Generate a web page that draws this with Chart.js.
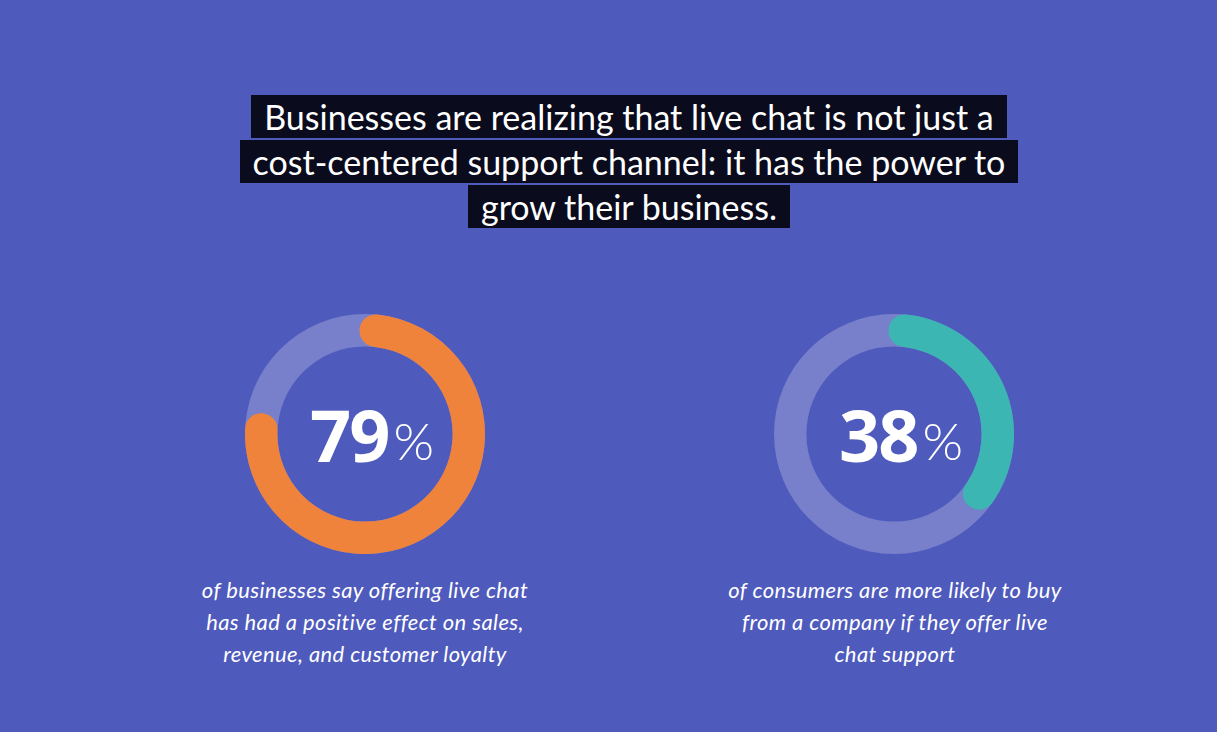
<!DOCTYPE html>
<html>
<head>
<meta charset="utf-8">
<script src="https://cdn.jsdelivr.net/npm/chart.js@4/dist/chart.umd.min.js"></script>
<style>
  html, body { margin: 0; padding: 0; }
  body { width: 1217px; height: 732px; background: #4E5ABC; position: relative; overflow: hidden; font-family: Lato, "Open Sans", sans-serif; color: #fff; }
  #title { position: absolute; left: 0; width: 1258px; top: 95px; text-align: center; }
  #title div { height: 45px; }
  #title span { display: inline-block; background: #0a0b1c; color: #fff; font-size: 34px; line-height: 43px; padding: 0 13px; }
  .wrap { position: absolute; width: 240px; height: 240px; top: 314px; }
  .wrap canvas { position: absolute; left: 0; top: 0; }
  .big { position: absolute; left: 7px; width: 240px; top: 0; height: 240px; display: flex; align-items: center; justify-content: center; pointer-events: none; }
  .big b { font-family: "Open Sans", sans-serif; font-size: 72px; font-weight: 700; letter-spacing: -2px; }
  .big i { font-family: Lato, sans-serif; font-style: normal; font-size: 52px; font-weight: 300; margin-left: 5px; margin-top: 12px; }
  .cap { position: absolute; top: 574px; width: 440px; text-align: center; font-style: italic; font-size: 22px; letter-spacing: 0.4px; line-height: 32px; }
</style>
</head>
<body>
<div id="title"></div>
<div class="wrap" id="w0" style="left:245px"><canvas id="c0" width="240" height="240"></canvas><div class="big" id="b0"></div></div>
<div class="wrap" id="w1" style="left:774px"><canvas id="c1" width="240" height="240"></canvas><div class="big" id="b1"></div></div>
<div class="cap" id="cap0" style="left:145px"></div>
<div class="cap" id="cap1" style="left:675px"></div>
<script>
const titleLines = [
  "Businesses are realizing that live chat is not just a",
  "cost-centered support channel: it has the power to",
  "grow their business."
];
const percentages = [79, 38];
const accentColors = ["#EF833B", "#3BB6B3"];
const trackColor = "#7880CB";
const captions = [
  ["of businesses say offering live chat", "has had a positive effect on sales,", "revenue, and customer loyalty"],
  ["of consumers are more likely to buy", "from a company if they offer live", "chat support"]
];

document.getElementById('title').innerHTML = titleLines.map(l => '<div><span>' + l + '</span></div>').join('');

const trackPlugin = {
  id: 'track',
  beforeDatasetsDraw(chart) {
    const arc = chart.getDatasetMeta(0).data[0];
    if (!arc) return;
    const ctx = chart.ctx;
    ctx.save();
    ctx.beginPath();
    ctx.arc(arc.x, arc.y, arc.outerRadius, 0, Math.PI * 2);
    ctx.arc(arc.x, arc.y, arc.innerRadius, Math.PI * 2, 0, true);
    ctx.closePath();
    ctx.fillStyle = trackColor;
    ctx.fill();
    ctx.restore();
  }
};

percentages.forEach((p, i) => {
  document.getElementById('b' + i).innerHTML = '<b>' + p + '</b><i>%</i>';
  document.getElementById('cap' + i).innerHTML = captions[i].join('<br>');
  new Chart(document.getElementById('c' + i), {
    type: 'doughnut',
    data: {
      labels: ['value', 'rest'],
      datasets: [{
        data: [p, 100 - p],
        backgroundColor: [accentColors[i], 'rgba(0,0,0,0)'],
        borderWidth: 0,
        borderRadius: (c) => c.dataIndex === 0 ? 16 : 0
      }]
    },
    options: {
      responsive: false,
      animation: false,
      cutout: '73%',
      rotation: -3,
      layout: { padding: 0 },
      plugins: { legend: { display: false }, tooltip: { enabled: false } }
    },
    plugins: [trackPlugin]
  });
});
</script>
</body>
</html>
